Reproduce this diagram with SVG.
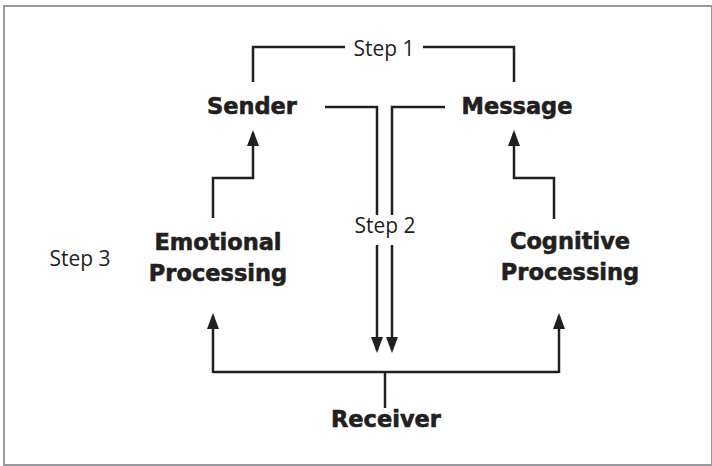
<svg xmlns="http://www.w3.org/2000/svg" width="712" height="466" viewBox="0 0 712 466">
<style>
.lbl{font-family:"DejaVu Sans","Liberation Sans",sans-serif;font-weight:bold;font-size:22.5px;fill:#231f20;stroke:#231f20;stroke-width:0.6;text-anchor:middle}
.step{font-family:"Open Sans","Liberation Sans",sans-serif;font-size:21px;fill:#231f20;text-anchor:middle}
.ln{fill:none;stroke:#231f20;stroke-width:2.5}
.ar{marker-end:url(#ah)}
</style>
<defs>
<marker id="ah" viewBox="0 0 16 12" refX="13" refY="6" markerWidth="16" markerHeight="12" markerUnits="userSpaceOnUse" orient="auto">
<path d="M0,0 L16,6 L0,12 Z" fill="#231f20"/>
</marker>
</defs>
<rect x="4" y="6" width="708" height="459" fill="#fff" stroke="#9a9a9e" stroke-width="2"/>
<g id="connectors">
<path class="ln" d="M253,82 V47 H345"/>
<path class="ln" d="M423,47 H514 V82"/>
<path class="ln" d="M325,107 H377 V215"/>
<path class="ln ar" d="M377,245 V350"/>
<path class="ln" d="M445,107 H392 V215"/>
<path class="ln ar" d="M392,245 V350"/>
<path class="ln ar" d="M213,218 V178 H253 V133"/>
<path class="ln ar" d="M554,219 V178 H514 V133"/>
<path class="ln" d="M385,408 V372"/>
<path class="ln" d="M213,372 H559"/>
<path class="ln ar" d="M213,373 V316"/>
<path class="ln ar" d="M559,373 V316"/>
</g>
<g id="step1"><text class="step" x="384" y="56">Step 1</text></g>
<g id="step2"><text class="step" x="385" y="233">Step 2</text></g>
<g id="step3"><text class="step" x="80" y="266">Step 3</text></g>
<g id="sender"><text class="lbl" x="252" y="114">Sender</text></g>
<g id="message"><text class="lbl" x="517" y="114">Message</text></g>
<g id="emotional"><text class="lbl" x="218" y="250">Emotional</text><text class="lbl" x="218" y="281">Processing</text></g>
<g id="cognitive"><text class="lbl" x="570" y="249">Cognitive</text><text class="lbl" x="570" y="280">Processing</text></g>
<g id="receiver"><text class="lbl" x="386" y="427">Receiver</text></g>
</svg>
